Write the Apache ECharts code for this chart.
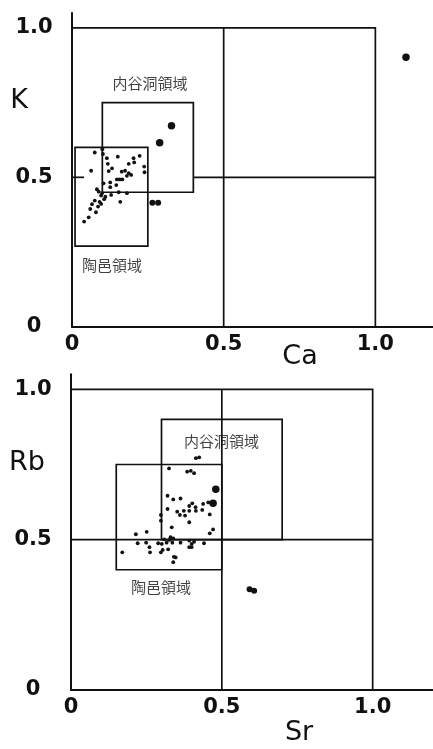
<!DOCTYPE html>
<html>
<head>
<meta charset="utf-8">
<script src="https://cdn.jsdelivr.net/npm/echarts@6/dist/echarts.min.js"></script>
<style>
  html, body { margin: 0; padding: 0; background: #fff; }
  #chart { width: 433px; height: 749px; }
</style>
</head>
<body>
<div id="chart"></div>
<script>
// ---- Ca–K diagram (upper panel) ----
const caKSmall = [
  [0.075,0.583],[0.100,0.594],[0.102,0.578],[0.151,0.569],[0.115,0.564],[0.203,0.564],
  [0.223,0.572],[0.187,0.545],[0.205,0.550],[0.118,0.545],[0.238,0.536],[0.063,0.522],
  [0.132,0.530],[0.121,0.521],[0.164,0.519],[0.175,0.522],[0.187,0.514],[0.195,0.508],
  [0.181,0.505],[0.239,0.517],[0.148,0.493],[0.157,0.493],[0.166,0.493],[0.126,0.483],
  [0.104,0.480],[0.146,0.474],[0.126,0.467],[0.082,0.460],[0.088,0.452],[0.099,0.447],
  [0.154,0.450],[0.181,0.447],[0.096,0.439],[0.110,0.435],[0.129,0.441],[0.106,0.427],
  [0.075,0.422],[0.091,0.418],[0.159,0.418],[0.066,0.410],[0.096,0.411],[0.086,0.402],
  [0.060,0.394],[0.079,0.383],[0.055,0.366],[0.040,0.352]
];
const caKMedium = [[0.265,0.415],[0.284,0.415]];
const caKLarge = [[0.289,0.616],[0.328,0.673],[1.101,0.902]];

// region boxes: [xMin, yMin, xMax, yMax]
const caKRegions = [
  [0.01, 0.27, 0.25, 0.60],   // 陶邑領域
  [0.10, 0.45, 0.40, 0.75]    // 内谷洞領域
];
// reference lines (polylines in data units)
const caKFrame = [
  [[0, 1], [1, 1], [1, 0]],
  [[0.5, 0], [0.5, 1]],
  [[0, 0.5], [0.04, 0.5]],
  [[0.40, 0.5], [1, 0.5]]
];
const caKRegionLabels = [
  { name: '内谷洞領域', at: [0.257, 0.816] },
  { name: '陶邑領域', at: [0.132, 0.206] }
];

// ---- Sr–Rb diagram (lower panel) ----
const srRbSmall = [
  [0.325,0.737],[0.320,0.646],[0.339,0.634],[0.363,0.637],[0.320,0.602],[0.298,0.582],
  [0.298,0.563],[0.334,0.541],[0.309,0.501],[0.215,0.518],[0.251,0.526],[0.221,0.488],
  [0.249,0.490],[0.260,0.475],[0.262,0.458],[0.289,0.488],[0.301,0.486],[0.298,0.458],
  [0.322,0.468],[0.170,0.458],[0.341,0.443],[0.414,0.771],[0.425,0.774],[0.385,0.726],
  [0.397,0.729],[0.408,0.721],[0.402,0.621],[0.413,0.608],[0.392,0.612],[0.438,0.619],
  [0.455,0.624],[0.352,0.593],[0.361,0.582],[0.374,0.596],[0.378,0.580],[0.392,0.596],
  [0.414,0.596],[0.435,0.599],[0.460,0.584],[0.392,0.558],[0.471,0.534],[0.460,0.521],
  [0.330,0.508],[0.339,0.504],[0.326,0.499],[0.317,0.490],[0.336,0.490],[0.363,0.490],
  [0.392,0.497],[0.400,0.486],[0.392,0.475],[0.400,0.475],[0.408,0.493],[0.441,0.488],
  [0.347,0.441],[0.339,0.425],[0.304,0.466]
];
const srRbMedium = [[0.592,0.335],[0.607,0.330]];
const srRbLarge = [[0.480,0.668],[0.471,0.621]];

const srRbRegions = [
  [0.15, 0.40, 0.50, 0.75],   // 陶邑領域
  [0.30, 0.50, 0.70, 0.90]    // 内谷洞領域
];
const srRbFrame = [
  [[0, 1], [1, 1], [1, 0]],
  [[0.5, 0], [0.5, 1]],
  [[0, 0.5], [1, 0.5]]
];
const srRbRegionLabels = [
  { name: '内谷洞領域', at: [0.499, 0.828] },
  { name: '陶邑領域', at: [0.298, 0.343] }
];

const tickValues = [0, 0.5, 1];
const tickLabels = ['0', '0.5', '1.0'];
const axisTitles = [['Ca', 'K'], ['Sr', 'Rb']];

const INK = '#111';
const NUM_FONT = 'DejaVu Sans';
const CJK_FONT = 'Noto Sans CJK JP';

function tickFormatter(v) {
  const i = tickValues.findIndex(t => Math.abs(t - v) < 1e-9);
  return i >= 0 ? tickLabels[i] : '';
}

function makeAxes(gridIndex, xMax, isX) {
  return {
    type: 'value', gridIndex,
    min: 0, max: isX ? xMax : 1.05, interval: 0.5,
    axisLine: { show: true, onZero: false, lineStyle: { color: INK, width: 2 } },
    axisTick: { show: false },
    splitLine: { show: false },
    axisLabel: {
      formatter: tickFormatter,
      showMaxLabel: false,
      color: INK, fontFamily: NUM_FONT, fontSize: 21, fontWeight: 'bold',
      margin: isX ? 7 : 38,
      align: 'center'
    }
  };
}

function lineSeries(gridIndex, segs) {
  return {
    type: 'custom', xAxisIndex: gridIndex, yAxisIndex: gridIndex,
    silent: true, clip: false,
    data: segs.map(s => s[0]),
    encode: { x: 0, y: 1 },
    renderItem: (params, api) => ({
      type: 'polyline',
      shape: { points: segs[params.dataIndex].map(p => api.coord(p)) },
      style: { stroke: INK, lineWidth: 1.7, fill: null }
    }),
    z: 2
  };
}

function boxSeries(gridIndex, boxes) {
  return {
    type: 'custom', xAxisIndex: gridIndex, yAxisIndex: gridIndex,
    silent: true, clip: false,
    data: boxes,
    encode: { x: [0, 2], y: [1, 3] },
    renderItem: (params, api) => {
      const p0 = api.coord([api.value(0), api.value(3)]);
      const p1 = api.coord([api.value(2), api.value(1)]);
      return {
        type: 'rect',
        shape: { x: p0[0], y: p0[1], width: p1[0] - p0[0], height: p1[1] - p0[1] },
        style: { stroke: INK, lineWidth: 1.7, fill: null }
      };
    },
    z: 3
  };
}

function dots(gridIndex, data, size) {
  return {
    type: 'scatter', xAxisIndex: gridIndex, yAxisIndex: gridIndex,
    data, symbol: 'circle', symbolSize: size,
    itemStyle: { color: INK, opacity: 1 },
    silent: true, z: 5
  };
}

function regionLabels(gridIndex, labels) {
  return {
    type: 'scatter', xAxisIndex: gridIndex, yAxisIndex: gridIndex,
    data: labels.map(l => ({ value: l.at, name: l.name })),
    symbolSize: 0, silent: true, z: 6,
    label: {
      show: true, position: 'inside', formatter: p => p.name,
      color: INK, fontFamily: CJK_FONT, fontSize: 15
    }
  };
}

const chart = echarts.init(document.getElementById('chart'), null, { renderer: 'canvas' });

const titleFont = '27px "DejaVu Sans"';
chart.setOption({
  backgroundColor: '#fff',
  animation: false,
  grid: [
    { left: 72, right: 0, top: 13, height: 313.7 },
    { left: 71, right: 0, top: 374.3, height: 315.7 }
  ],
  xAxis: [makeAxes(0, 1.19, true), makeAxes(1, 1.2, true)],
  yAxis: [makeAxes(0, 0, false), makeAxes(1, 0, false)],
  graphic: [
    { type: 'text', x: 300, y: 357, style: { text: axisTitles[0][0], font: titleFont, fill: INK, align: 'center', verticalAlign: 'middle' } },
    { type: 'text', x: 19, y: 101, style: { text: axisTitles[0][1], font: titleFont, fill: INK, align: 'center', verticalAlign: 'middle' } },
    { type: 'text', x: 299, y: 733, style: { text: axisTitles[1][0], font: titleFont, fill: INK, align: 'center', verticalAlign: 'middle' } },
    { type: 'text', x: 27, y: 463, style: { text: axisTitles[1][1], font: titleFont, fill: INK, align: 'center', verticalAlign: 'middle' } }
  ],
  series: [
    lineSeries(0, caKFrame),
    boxSeries(0, caKRegions),
    dots(0, caKSmall, 3.8),
    dots(0, caKMedium, 6),
    dots(0, caKLarge, 7.5),
    regionLabels(0, caKRegionLabels),
    lineSeries(1, srRbFrame),
    boxSeries(1, srRbRegions),
    dots(1, srRbSmall, 3.8),
    dots(1, srRbMedium, 6),
    dots(1, srRbLarge, 7.5),
    regionLabels(1, srRbRegionLabels)
  ]
});
</script>
</body>
</html>
